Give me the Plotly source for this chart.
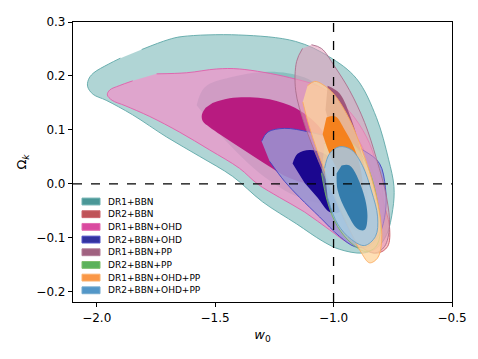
import plotly.graph_objects as go

labels = ["DR1+BBN", "DR2+BBN", "DR1+BBN+OHD", "DR2+BBN+OHD",
          "DR1+BBN+PP", "DR2+BBN+PP", "DR1+BBN+OHD+PP", "DR2+BBN+OHD+PP"]

# contour outlines (w0, Omega_k); 2s = 95%, 1s = 68%
dr1_bbn_2s_x = [-1.81, -1.70, -1.64, -1.40, -1.16, -1.02, -0.903, -0.819, -0.768, -0.745,
                -0.750, -0.776, -0.819, -0.878, -0.975, -1.046, -1.156, -1.30, -1.426, -1.565, -1.705, -1.848,
                -1.960, -2.015, -2.038, -2.035, -2.015, -1.95, -1.90]
dr1_bbn_2s_y = [0.249, 0.267, 0.273, 0.276, 0.264, 0.236, 0.195, 0.123, 0.046, -0.005,
                -0.047, -0.094, -0.119, -0.128, -0.121, -0.106, -0.074, -0.033, 0.014, 0.051, 0.087, 0.128,
                0.155, 0.166, 0.180, 0.193, 0.205, 0.222, 0.233]
dr1_bbn_1s_x = [-1.578, -1.544, -1.439, -1.270, -1.122, -1.017, -0.954, -0.932, -0.954, -1.017, -1.143, -1.312, -1.481]
dr1_bbn_1s_y = [0.146, 0.179, 0.197, 0.208, 0.197, 0.164, 0.119, 0.056, 0.002, -0.034, -0.025, 0.020, 0.092]

dr2_bbn_2s_x = [-1.017, -0.966, -0.911, -0.848, -0.797, -0.764, -0.772, -0.814, -0.869, -0.932, -0.983, -1.017, -1.030]
dr2_bbn_2s_y = [0.101, 0.110, 0.092, 0.038, -0.025, -0.079, -0.116, -0.128, -0.121, -0.097, -0.052, 0.002, 0.056]
dr2_bbn_1s_x = [-0.975, -0.924, -0.869, -0.840, -0.857, -0.899, -0.941, -0.975]
dr2_bbn_1s_y = [0.056, 0.056, 0.011, -0.043, -0.079, -0.070, -0.034, 0.011]

dr1_ohd_2s_x = [-1.747, -1.620, -1.494, -1.397, -1.186, -1.046, -0.932, -0.861, -0.819, -0.793,
                -0.789, -0.814, -0.869, -0.932, -1.017, -1.122, -1.228, -1.321, -1.397, -1.523, -1.650, -1.776,
                -1.880, -1.935, -1.955, -1.945, -1.905, -1.848]
dr1_ohd_2s_y = [0.204, 0.206, 0.213, 0.213, 0.197, 0.177, 0.134, 0.087, 0.038, -0.016,
                -0.061, -0.097, -0.114, -0.110, -0.085, -0.052, -0.025, 0.0, 0.029, 0.063, 0.096, 0.125,
                0.145, 0.155, 0.165, 0.174, 0.182, 0.191]
dr1_ohd_1s_x = [-1.511, -1.439, -1.300, -1.186, -1.101, -1.038, -1.017, -1.038, -1.101, -1.186, -1.291, -1.418,
                -1.523, -1.552, -1.556, -1.540]
dr1_ohd_1s_y = [0.150, 0.159, 0.159, 0.146, 0.123, 0.092, 0.056, 0.020, 0.002, 0.011, 0.038, 0.074,
                0.105, 0.116, 0.128, 0.141]

dr2_ohd_2s_x = [-1.304, -1.278, -1.207, -1.101, -0.975, -0.869, -0.806, -0.781, -0.781, -0.806, -0.857, -0.911,
                -0.975, -1.059, -1.143, -1.207, -1.270]
dr2_ohd_2s_y = [0.079, 0.096, 0.103, 0.096, 0.081, 0.061, 0.038, -0.007, -0.052, -0.092, -0.116, -0.116,
                -0.097, -0.061, -0.025, 0.005, 0.042]
dr2_ohd_1s_x = [-1.173, -1.152, -1.101, -1.038, -0.983, -0.954, -0.954, -0.975, -1.017, -1.068, -1.122]
dr2_ohd_1s_y = [0.038, 0.056, 0.063, 0.056, 0.038, 0.011, -0.025, -0.052, -0.052, -0.025, 0.002]

dr1_pp_2s_x = [-1.093, -1.051, -0.996, -0.932, -0.869, -0.819, -0.776, -0.764, -0.785, -0.827, -0.882, -0.941,
               -0.996, -1.059, -1.122, -1.160, -1.156, -1.131]
dr1_pp_2s_y = [0.258, 0.251, 0.218, 0.173, 0.114, 0.047, -0.025, -0.079, -0.116, -0.128, -0.116, -0.079,
               -0.025, 0.038, 0.110, 0.173, 0.227, 0.251]
dr1_pp_1s_x = [-1.025, -0.975, -0.924, -0.882, -0.857, -0.869, -0.911, -0.954, -0.996, -1.034]
dr1_pp_1s_y = [0.182, 0.168, 0.119, 0.056, -0.007, -0.043, -0.034, 0.011, 0.074, 0.137]

dr2_pp_2s_x = [-1.038, -1.004, -0.954, -0.899, -0.848, -0.814, -0.802, -0.823, -0.865, -0.924, -0.983, -1.025, -1.051]
dr2_pp_2s_y = [0.074, 0.088, 0.085, 0.065, 0.023, -0.034, -0.088, -0.117, -0.125, -0.110, -0.079, -0.034, 0.020]
dr2_pp_1s_x = [-0.983, -0.932, -0.882, -0.857, -0.882, -0.932, -0.975, -0.996]
dr2_pp_1s_y = [0.029, 0.029, -0.007, -0.061, -0.088, -0.079, -0.043, 0.002]

dr1_all_2s_x = [-1.110, -1.080, -1.045, -0.996, -0.932, -0.878, -0.840, -0.806, -0.797, -0.814, -0.848, -0.882,
                -0.924, -0.975, -1.025, -1.068, -1.105, -1.130]
dr1_all_2s_y = [0.182, 0.190, 0.184, 0.165, 0.119, 0.061, 0.011, -0.052, -0.106, -0.137, -0.146, -0.128,
                -0.092, -0.043, 0.011, 0.060, 0.110, 0.152]
dr1_all_1s_x = [-1.030, -0.992, -0.954, -0.911, -0.882, -0.882, -0.924, -0.975, -1.017, -1.046]
dr1_all_1s_y = [0.123, 0.125, 0.101, 0.065, 0.020, -0.016, -0.016, 0.020, 0.056, 0.092]

dr2_all_2s_x = [-1.038, -1.017, -0.975, -0.924, -0.878, -0.840, -0.814, -0.823, -0.869, -0.924, -0.983, -1.025]
dr2_all_2s_y = [0.029, 0.056, 0.069, 0.063, 0.034, -0.013, -0.061, -0.097, -0.114, -0.103, -0.074, -0.025]
dr2_all_1s_x = [-0.966, -0.932, -0.878, -0.857, -0.869, -0.899, -0.945, -0.983, -0.987]
dr2_all_1s_y = [0.034, 0.034, -0.011, -0.058, -0.085, -0.083, -0.052, -0.011, 0.020]

contours = [
    (dr1_bbn_2s_x, dr1_bbn_2s_y, dr1_bbn_1s_x, dr1_bbn_1s_y),
    (dr2_bbn_2s_x, dr2_bbn_2s_y, dr2_bbn_1s_x, dr2_bbn_1s_y),
    (dr1_ohd_2s_x, dr1_ohd_2s_y, dr1_ohd_1s_x, dr1_ohd_1s_y),
    (dr2_ohd_2s_x, dr2_ohd_2s_y, dr2_ohd_1s_x, dr2_ohd_1s_y),
    (dr1_pp_2s_x, dr1_pp_2s_y, dr1_pp_1s_x, dr1_pp_1s_y),
    (dr2_pp_2s_x, dr2_pp_2s_y, dr2_pp_1s_x, dr2_pp_1s_y),
    (dr1_all_2s_x, dr1_all_2s_y, dr1_all_1s_x, dr1_all_1s_y),
    (dr2_all_2s_x, dr2_all_2s_y, dr2_all_1s_x, dr2_all_1s_y),
]

# outer fill, inner fill, outline, legend patch
styles = [
    ("rgba(123,185,185,0.6)", "rgba(100,170,170,0.5)", "rgb(95,168,168)", "rgb(55,140,140)"),
    ("rgba(240,110,120,0.45)", "rgba(190,60,70,0.8)", "rgb(200,85,95)", "rgb(185,65,70)"),
    ("rgba(255,134,200,0.6)", "rgba(181,16,122,0.92)", "rgb(225,95,170)", "rgb(215,55,150)"),
    ("rgba(153,149,211,0.85)", "rgba(20,0,140,0.95)", "rgb(65,65,195)", "rgb(30,30,150)"),
    ("rgba(230,155,185,0.55)", "rgba(150,70,110,0.85)", "rgb(170,110,140)", "rgb(150,80,115)"),
    ("rgba(185,225,175,0.45)", "rgba(80,170,80,0.6)", "rgb(115,185,95)", "rgb(75,170,75)"),
    ("rgba(255,212,155,0.75)", "rgba(245,125,20,0.92)", "rgb(250,170,95)", "rgb(250,140,50)"),
    ("rgba(165,200,228,0.85)", "rgba(45,120,170,0.95)", "rgb(100,160,200)", "rgb(65,140,195)"),
]

fig = go.Figure()

for name, (ox, oy, ix, iy), (ofill, ifill, lc, _) in zip(labels, contours, styles):
    fig.add_trace(go.Scatter(x=ox, y=oy, fill="toself", fillcolor=ofill, mode="lines",
                             line=dict(color=lc, width=0.9, shape="spline", smoothing=1),
                             name=name, hoverinfo="name", showlegend=False))
    fig.add_trace(go.Scatter(x=ix, y=iy, fill="toself", fillcolor=ifill, mode="lines",
                             line=dict(color="rgba(0,0,0,0)", width=0, shape="spline", smoothing=1),
                             name=name, hoverinfo="name", showlegend=False))

fig.add_vline(x=-1.0, line=dict(color="black", width=1.3, dash="dash"))
fig.add_hline(y=0.0, line=dict(color="black", width=1.3, dash="dash"))

# page body has an 8px margin, so the figure is placed 8px in
PAD = 8
FW, FH = 478 - PAD, 359 - PAD
ML, MR, MT, MB = 73 - PAD, 26, 15 - PAD, 57
W, H = FW - ML - MR, FH - MT - MB
T = 15

# hand-made legend, matplotlib style (compact rows)
for i, (name, st) in enumerate(zip(labels, styles)):
    yc = 199 + 13 * i
    fig.add_shape(type="rect", xref="paper", yref="paper",
                  x0=(82 - 73) / W, x1=(100 - 73) / W,
                  y0=(T + H - yc - 3.5) / H, y1=(T + H - yc + 3.5) / H,
                  fillcolor=st[3], line=dict(color=st[2], width=1), opacity=0.9)
    fig.add_annotation(xref="paper", yref="paper", x=(106 - 73) / W, y=(T + H - yc) / H,
                       text=name, showarrow=False, xanchor="left", yanchor="middle",
                       font=dict(size=9, color="black"))

fig.update_xaxes(range=[-2.1, -0.5], tickvals=[-2.0, -1.5, -1.0, -0.5], tickformat=".1f",
                 showline=True, mirror=True, linecolor="black", linewidth=1.2,
                 ticks="outside", ticklen=4, tickcolor="black", showgrid=False, zeroline=False,
                 title=dict(text="<i>w</i><sub>0</sub>", font=dict(size=13), standoff=6))
fig.update_yaxes(range=[-0.2186, 0.3], tickvals=[-0.2, -0.1, 0.0, 0.1, 0.2, 0.3], tickformat=".1f",
                 showline=True, mirror=True, linecolor="black", linewidth=1.2,
                 ticks="outside", ticklen=4, tickcolor="black", showgrid=False, zeroline=False,
                 title=dict(text="Ω<sub><i>k</i></sub>", font=dict(size=13), standoff=6))

fig.update_layout(width=FW, height=FH, margin=dict(l=ML, r=MR, t=MT, b=MB),
                  plot_bgcolor="white", paper_bgcolor="white", showlegend=False,
                  font=dict(family="DejaVu Sans", size=12, color="black"))

fig.write_html("out.html")
